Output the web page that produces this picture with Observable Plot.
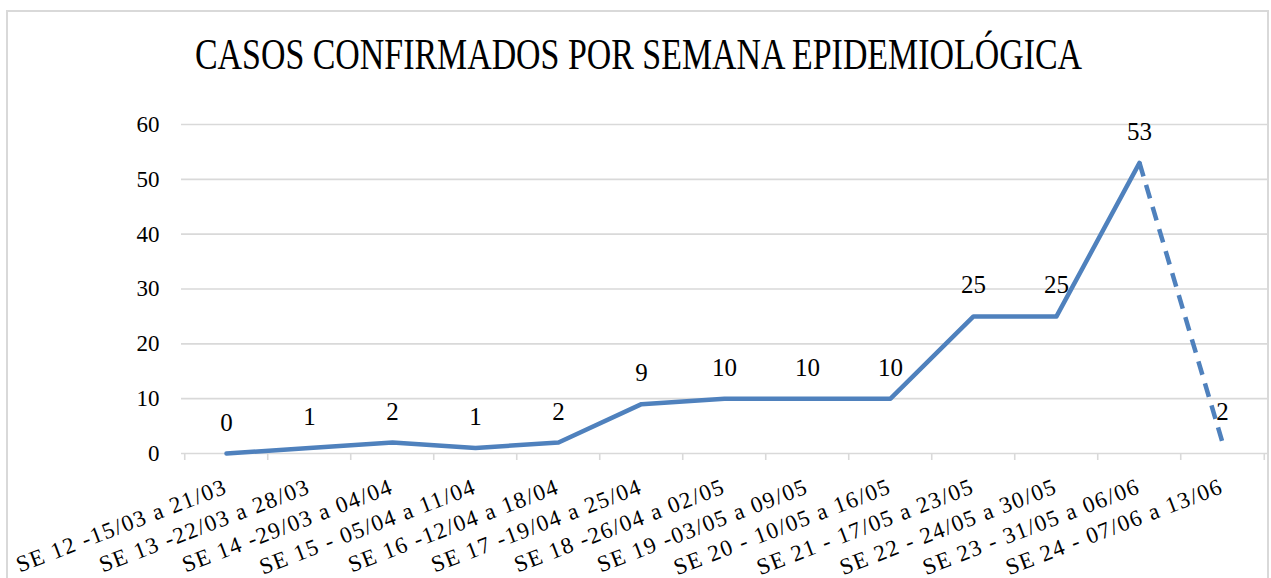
<!DOCTYPE html>
<html>
<head>
<meta charset="utf-8">
<script src="https://cdn.jsdelivr.net/npm/d3@7"></script>
<script src="https://cdn.jsdelivr.net/npm/@observablehq/plot@0.6"></script>
<style>
  html, body { margin: 0; padding: 0; background: #fff; }
  #wrap { position: relative; width: 1271px; height: 578px; overflow: hidden; }
  #frame { position: absolute; left: 6px; top: 10px; width: 1259px; height: 620px; border: 2px solid #d9d9d9; pointer-events: none; }
  #wrap svg, #wrap svg text { font-family: "Liberation Serif", "Times New Roman", serif !important; }
</style>
</head>
<body>
<div id="wrap"><div id="frame"></div></div>
<script>
const title = "CASOS CONFIRMADOS POR SEMANA EPIDEMIOLÓGICA";
const weeks = [
  "SE 12 -15/03 a 21/03",
  "SE 13 -22/03 a 28/03",
  "SE 14 -29/03 a 04/04",
  "SE 15 - 05/04 a 11/04",
  "SE 16 -12/04 a 18/04",
  "SE 17 -19/04 a 25/04",
  "SE 18 -26/04 a 02/05",
  "SE 19 -03/05 a 09/05",
  "SE 20 - 10/05 a 16/05",
  "SE 21 - 17/05 a 23/05",
  "SE 22 - 24/05 a 30/05",
  "SE 23 - 31/05 a 06/06",
  "SE 24 - 07/06 a 13/06"
];
const cases = [0, 1, 2, 1, 2, 9, 10, 10, 10, 25, 25, 53, 2];
const yTicks = [0, 10, 20, 30, 40, 50, 60];

const data = weeks.map((w, i) => ({week: w, cases: cases[i], i}));
const solid = data.slice(0, data.length - 1);
const dashed = data.slice(data.length - 2);

const W = 1271, H = 578, mL = 181, mR = 4, mT = 124, mB = 125;
const step = (W - mL - mR) / weeks.length;
const blue = "#4f81bd";
const grid = "#d9d9d9";

const chart = Plot.plot({
  width: W, height: H,
  marginLeft: mL, marginRight: mR, marginTop: mT, marginBottom: mB,
  style: {background: "transparent", color: "#000"},
  x: {type: "point", domain: weeks, padding: 0.5, axis: null},
  y: {domain: [0, 60], axis: null},
  marks: [
    Plot.gridY(yTicks, {stroke: grid, strokeOpacity: 1, strokeWidth: 1.6}),
    Plot.axisY(yTicks, {tickSize: 0, tickPadding: 22, fontSize: 23, label: null, fill: "#000"}),
    Plot.axisX(weeks, {tickSize: 7, tickFormat: () => "", dx: -step / 2, stroke: grid, strokeWidth: 1.6, label: null}),
    Plot.axisX([weeks[weeks.length - 1]], {tickSize: 7, tickFormat: () => "", dx: step / 2, stroke: grid, strokeWidth: 1.6, label: null}),
    Plot.text(weeks, {x: d => d, y: () => 0, dy: 39, dx: 2, rotate: -21, textAnchor: "end", lineAnchor: "bottom",
      fontSize: 23, fill: "#000"}),
    Plot.line(solid, {x: "week", y: "cases", stroke: blue, strokeWidth: 4.5, strokeLinejoin: "round", strokeLinecap: "round"}),
    Plot.line(dashed, {x: "week", y: "cases", stroke: blue, strokeWidth: 4.5, strokeDasharray: "14,9", strokeLinecap: "butt"}),
    Plot.text(data, {x: "week", y: "cases", text: d => String(d.cases), dy: -31, lineAnchor: "middle", fontSize: 25, fill: "#000"}),
    Plot.text([title], {frameAnchor: "top", dy: -56, dx: 638 - (mL + (W - mL - mR) / 2), lineAnchor: "bottom",
      fontSize: 44, fill: "#000"})
  ]
});

d3.select(chart).selectAll("text").each(function () {
  const t = this.textContent;
  if (t === title) {
    d3.select(this).attr("textLength", 887).attr("lengthAdjust", "spacingAndGlyphs");
  } else if (weeks.includes(t)) {
    d3.select(this).style("letter-spacing", "1.4px");
  }
});

document.getElementById("wrap").prepend(chart);
</script>
</body>
</html>
